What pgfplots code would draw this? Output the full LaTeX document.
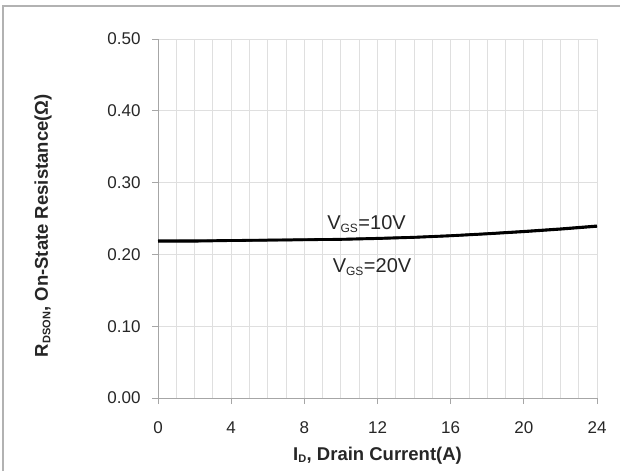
\documentclass[border=0pt]{standalone}
\usepackage{pgfplots}
\pgfplotsset{compat=1.18}
\usepackage{fontspec}
\setmainfont{Liberation Sans}

\begin{document}
\begin{tikzpicture}
\useasboundingbox (0pt,0pt) rectangle (620pt,-471pt);
% outer frame (only top and left edges are inside the picture)
\draw[gray!60, line width=2pt] (3pt,-471pt) -- (3pt,-6pt) -- (620pt,-6pt);
\begin{axis}[
    at={(158pt,-398pt)}, anchor=south west,
    scale only axis,
    width=439pt, height=359pt,
    xmin=0, xmax=24, ymin=0, ymax=0.5,
    xtick={0,4,...,24},
    minor xtick={0,1,...,24},
    ytick={0,0.1,...,0.5},
    /pgf/number format/assume math mode=true,
    axis lines=left,
    axis line style={gray!70, line width=0.8pt, -},
    tick style={gray!70, line width=0.8pt},
    tick align=outside,
    major tick length=6pt,
    minor tick length=0pt,
    xmajorgrids, xminorgrids, ymajorgrids,
    grid style={gray!25, line width=0.9pt},
    minor grid style={gray!25, line width=0.9pt},
    tick label style={font=\fontsize{17}{19}\selectfont, text=black!85},
    xticklabel style={yshift=-14pt},
    yticklabel style={xshift=-8pt, /pgf/number format/.cd, fixed, fixed zerofill, precision=2},
    xlabel={\textbf{I\textsubscript{\fontsize{11}{12}\selectfont D}, Drain Current(A)}},
    ylabel={\textbf{R\textsubscript{\fontsize{11}{12}\selectfont DSON}, On-State Resistance(Ω)}},
    label style={font=\fontsize{18.5}{20}\selectfont, text=black!85},
    xlabel style={at={(axis description cs:0.5,0)}, anchor=base, yshift=-62pt},
    ylabel style={at={(axis description cs:0,0.48)}, anchor=center, yshift=115pt},
    clip=false,
]
\addplot[black, line width=2.6pt] coordinates {
    (0,0.2190) (2,0.2190) (4,0.2195) (6,0.2200) (8,0.2205) (10,0.2212)
    (12,0.2225) (14,0.2240) (16,0.2262) (18,0.2290) (20,0.2322) (22,0.2357) (24,0.2398)
};
\addplot[black, line width=2.6pt] coordinates {
    (0,0.2182) (2,0.2183) (4,0.2192) (6,0.2198) (8,0.2203) (10,0.2208)
    (12,0.2220) (14,0.2236) (16,0.2258) (18,0.2285) (20,0.2315) (22,0.2350) (24,0.2390)
};
\node[font=\fontsize{20}{22}\selectfont, text=black!85] at (axis cs:11.4,0.2425) {V\textsubscript{\fontsize{12}{13}\selectfont GS}=10V};
\node[font=\fontsize{20}{22}\selectfont, text=black!85] at (axis cs:11.7,0.1825) {V\textsubscript{\fontsize{12}{13}\selectfont GS}=20V};
\end{axis}
\end{tikzpicture}
\end{document}
